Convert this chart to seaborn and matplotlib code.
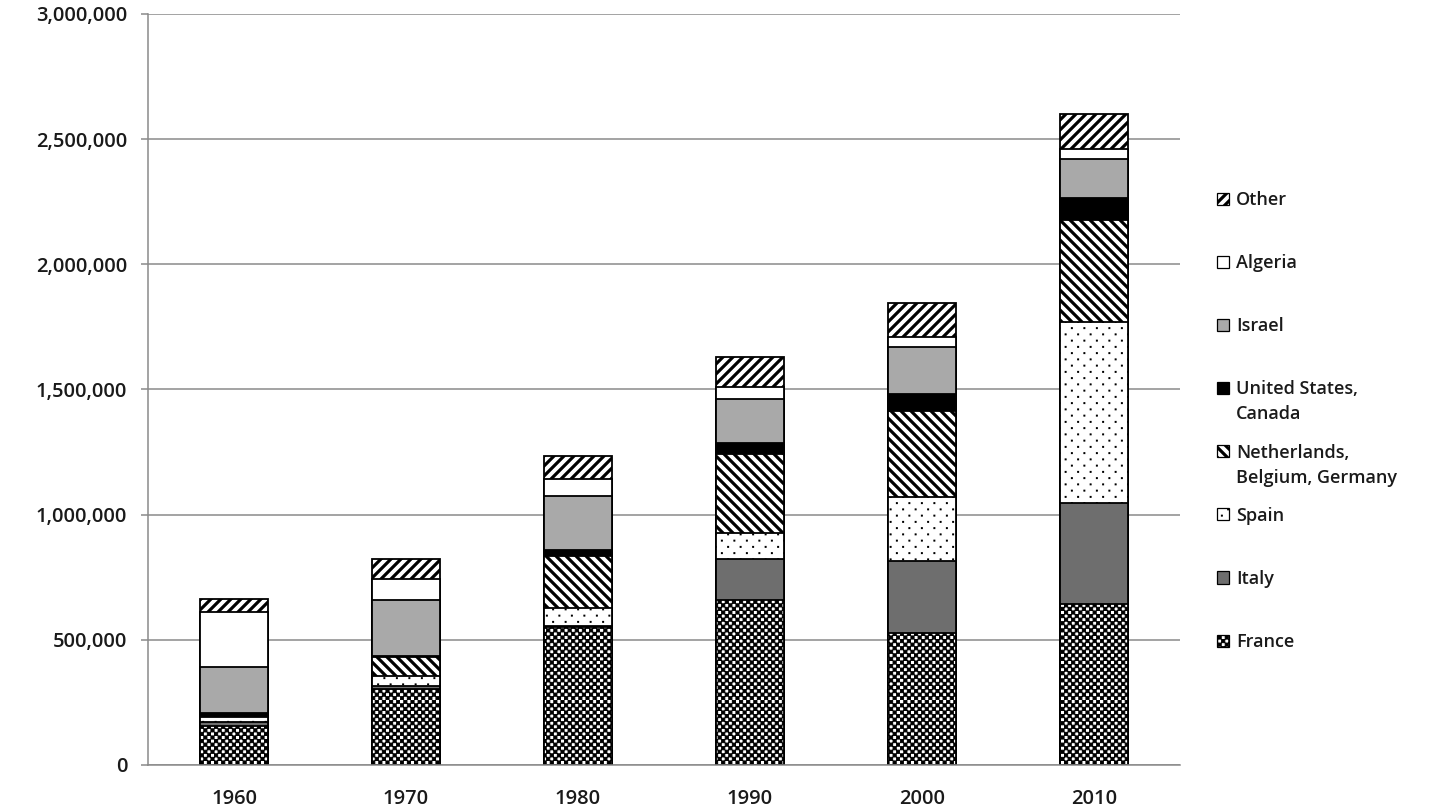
import warnings
warnings.filterwarnings('ignore')
import numpy as np
import pandas as pd
import matplotlib
matplotlib.use('Agg')
import matplotlib.pyplot as plt
import matplotlib.hatch as mhatch
import matplotlib.patches as mpatches
from matplotlib.path import Path
from matplotlib.ticker import FuncFormatter
import seaborn as sns

# ---------------- data ----------------
years = ['1960', '1970', '1980', '1990', '2000', '2010']
france = [156000, 304000, 551000, 659000, 529000, 642000]
italy = [16000, 13000, 5000, 164000, 286000, 403000]
spain = [20000, 39000, 73000, 103000, 254000, 725000]
nbg = [3000, 75000, 206000, 317000, 346000, 406000]
us_canada = [13000, 4000, 23000, 43000, 67000, 87000]
israel = [182000, 225000, 216000, 176000, 186000, 156000]
algeria = [222000, 84000, 67000, 48000, 43000, 40000]
other = [53000, 80000, 93000, 118000, 133000, 141000]

series_names = ['France', 'Italy', 'Spain', 'Netherlands,', 'United States,',
                'Israel', 'Algeria', 'Other']
series_values = [france, italy, spain, nbg, us_canada, israel, algeria, other]
continuation = {'United States,': 'Canada', 'Netherlands,': 'Belgium, Germany'}

# ---------------- custom hatch patterns ----------------
class _Checker(mhatch.HatchPatternBase):
    def __init__(self, hatch, density):
        self.n = 28 if 'c' in hatch else 0
        self.num_vertices = (self.n * self.n // 2) * 5

    def set_vertices_and_codes(self, vertices, codes):
        n = self.n
        s = 1.0 / n
        m = 0.002
        k = 0
        for i in range(n):
            for j in range(n):
                if (i + j) % 2 == 0:
                    x0, y0 = i * s + m, j * s + m
                    x1, y1 = (i + 1) * s - m, (j + 1) * s - m
                    vertices[k:k + 5] = [(x0, y0), (x1, y0), (x1, y1), (x0, y1), (x0, y0)]
                    codes[k:k + 5] = [Path.MOVETO, Path.LINETO, Path.LINETO,
                                      Path.LINETO, Path.CLOSEPOLY]
                    k += 5


class _Stripes(mhatch.HatchPatternBase):
    def __init__(self, hatch, density):
        self.ne = 'a' in hatch
        self.nw = 'b' in hatch
        self.n = 10
        cnt = 2 * self.n + 1
        self.num_vertices = 2 * cnt * (int(self.ne) + int(self.nw))

    def set_vertices_and_codes(self, vertices, codes):
        n = self.n
        e = 0.1
        k = 0
        if self.ne:
            for i in range(-n, n + 1):
                c = i / n
                vertices[k] = (-e, c - e)
                vertices[k + 1] = (1 + e, 1 + c + e)
                codes[k] = Path.MOVETO
                codes[k + 1] = Path.LINETO
                k += 2
        if self.nw:
            for i in range(0, 2 * n + 1):
                c = i / n
                vertices[k] = (-e, c + e)
                vertices[k + 1] = (1 + e, c - 1 - e)
                codes[k] = Path.MOVETO
                codes[k + 1] = Path.LINETO
                k += 2


class _Dots(mhatch.HatchPatternBase):
    def __init__(self, hatch, density):
        self.on = 'd' in hatch
        self.cols, self.rows = 8, 16
        self.num_vertices = self.cols * self.rows * 5 if self.on else 0

    def set_vertices_and_codes(self, vertices, codes):
        r = 0.005
        k = 0
        for row in range(self.rows):
            y = (row + 0.5) / self.rows
            for col in range(self.cols):
                x = (col + 0.25 + 0.5 * (row % 2)) / self.cols
                vertices[k:k + 5] = [(x - r, y - r), (x + r, y - r), (x + r, y + r),
                                     (x - r, y + r), (x - r, y - r)]
                codes[k:k + 5] = [Path.MOVETO, Path.LINETO, Path.LINETO,
                                  Path.LINETO, Path.CLOSEPOLY]
                k += 5


mhatch._hatch_types.extend([_Checker, _Stripes, _Dots])

# style per series (face, hatch, hatch colour, hatch linewidth)
styles = {
    'France': ('white', 'c', 'black', 0.7),
    'Italy': ('#6e6e6e', None, 'black', None),
    'Spain': ('white', 'd', '#6a6a6a', 0.7),
    'Netherlands,': ('white', 'b', 'black', 2.3),
    'United States,': ('black', None, 'black', None),
    'Israel': ('#a9a9a9', None, 'black', None),
    'Algeria': ('white', None, 'black', None),
    'Other': ('white', 'a', 'black', 2.3),
}

sns.set_style('white')
plt.rcParams['font.family'] = ['Open Sans', 'DejaVu Sans']
plt.rcParams['hatch.linewidth'] = 2.3
TXT_W = 'semibold'
TXT_C = '#1a1a1a'

W, H = 1435, 811
fig = plt.figure(figsize=(W / 100, H / 100), dpi=100)
ax = fig.add_axes([148 / W, 1 - 765 / H, (1180 - 148) / W, (765 - 14) / H])


def style_patches(patches, hc, hlw):
    for p in patches:
        if hc is not None and hasattr(p, 'set_hatchcolor'):
            p.set_hatchcolor(hc)
        if hlw is not None and hasattr(p, 'set_hatch_linewidth'):
            p.set_hatch_linewidth(hlw)


# cumulative stacked bars, drawn from the top layer down
cum = np.cumsum(np.array(series_values, dtype=float), axis=0)
for idx in range(len(series_names) - 1, -1, -1):
    name = series_names[idx]
    face, hatch, hc, hlw = styles[name]
    df = pd.DataFrame({'year': years, 'value': cum[idx]})
    n_before = len(ax.patches)
    ctx = {'hatch.linewidth': hlw} if hlw is not None else {}
    with plt.rc_context(ctx):
        sns.barplot(data=df, x='year', y='value', order=years, color=face,
                    saturation=1, width=0.4, errorbar=None, ax=ax,
                    edgecolor='black', linewidth=1.3, hatch=hatch)
    style_patches(ax.patches[n_before:], hc, hlw)

# ---------------- axes styling ----------------
grey = '#8a8a8a'
ax.set_ylim(0, 3000000)
ax.set_xlim(-0.5, 5.5)
ax.set_yticks(np.arange(0, 3000001, 500000))
ax.yaxis.set_major_formatter(FuncFormatter(lambda v, p: f'{int(v):,}'))
ax.yaxis.grid(True, color=grey, linewidth=1.1)
ax.xaxis.grid(False)
ax.set_axisbelow(True)
ax.set_xlabel('')
ax.set_ylabel('')
for s in ['top', 'right']:
    ax.spines[s].set_visible(False)
for s in ['left', 'bottom']:
    ax.spines[s].set_color(grey)
    ax.spines[s].set_linewidth(1.1)
ax.set_xticks(np.arange(-0.5, 6, 1), minor=True)
ax.tick_params(axis='x', which='major', length=0, pad=17, labelsize=14.5,
               labelcolor=TXT_C)
ax.tick_params(axis='x', which='minor', length=5, width=1.1, color=grey,
               direction='out')
ax.tick_params(axis='y', which='major', length=5, width=1.1, color=grey,
               direction='out', pad=10, labelsize=14.5, labelcolor=TXT_C)
ax.tick_params(left=True, bottom=True)
for lab in ax.get_xticklabels() + ax.get_yticklabels():
    lab.set_fontweight(TXT_W)

# ---------------- legend ----------------
handles = []
labels = []
for name in reversed(series_names):
    face, hatch, hc, hlw = styles[name]
    with plt.rc_context({'hatch.linewidth': hlw} if hlw is not None else {}):
        h = mpatches.Patch(facecolor=face, edgecolor='black', linewidth=0.9,
                           hatch=hatch)
    style_patches([h], hc, hlw)
    handles.append(h)
    labels.append(name)

leg = ax.legend(handles, labels, loc='upper left',
                bbox_to_anchor=(1217 / W, 1 - 191 / H), bbox_transform=fig.transFigure,
                frameon=False, prop={'size': 13, 'weight': TXT_W},
                handlelength=0.65, handleheight=0.65,
                handletextpad=0.4, labelspacing=2.5, borderpad=0, borderaxespad=0)
for t in leg.get_texts():
    t.set_color(TXT_C)
for name, p in zip(reversed(series_names), leg.get_patches()):
    face, hatch, hc, hlw = styles[name]
    style_patches([p], hc, hlw)

fig.canvas.draw()
renderer = fig.canvas.get_renderer()
for t in leg.get_texts():
    lab = t.get_text()
    if lab in continuation:
        bb = t.get_window_extent(renderer)
        fig.text(bb.x0 / W, (bb.y0 - 25) / H, continuation[lab], ha='left',
                 va='bottom', fontsize=13, fontweight=TXT_W, color=TXT_C)

fig.savefig('out.png', dpi=100)
